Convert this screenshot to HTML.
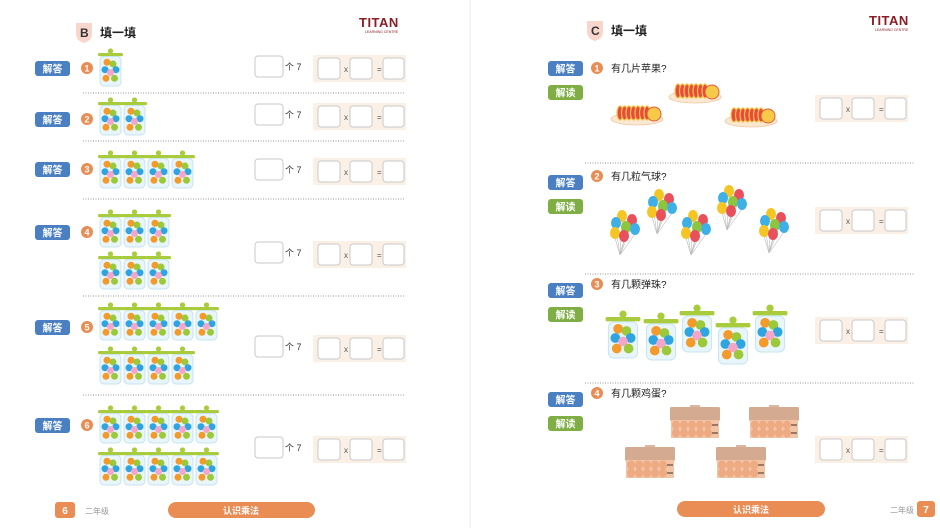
<!DOCTYPE html>
<html><head><meta charset="utf-8">
<style>
html,body{margin:0;padding:0;background:#fff;}
svg{display:block;font-family:"Liberation Sans","Noto Sans CJK SC",sans-serif;}
</style></head>
<body>
<svg id="sheet" width="940" height="528" viewBox="0 0 940 528" xmlns="http://www.w3.org/2000/svg">
<rect width="940" height="528" fill="#fff"/>
<line x1="470" y1="0" x2="470" y2="528" stroke="#f5f5f5" stroke-width="2"/>
<g>
<path d="M76 23 h16 v10 q0 8 -8 10 q-8 -2 -8 -10z" fill="#f8d6cc"/>
<text x="80" y="37" font-size="12" font-weight="bold" fill="#333">B</text>
<text x="100" y="37" font-size="12" font-weight="bold" fill="#222">填一填</text>
</g>
<g>
<text x="359" y="27" font-size="13" font-weight="bold" fill="#8b1e24" letter-spacing="0.5">TITAN</text>
<text x="365" y="33" font-size="3.5" fill="#8b1e24">LEARNING CENTRE</text>
</g>
<g>
<path d="M587 21 h16 v10 q0 8 -8 10 q-8 -2 -8 -10z" fill="#f8d6cc"/>
<text x="591" y="35" font-size="12" font-weight="bold" fill="#333">C</text>
<text x="611" y="35" font-size="12" font-weight="bold" fill="#222">填一填</text>
</g>
<g>
<text x="869" y="25" font-size="13" font-weight="bold" fill="#8b1e24" letter-spacing="0.5">TITAN</text>
<text x="875" y="31" font-size="3.5" fill="#8b1e24">LEARNING CENTRE</text>
</g>
<g id="content"></g>
<g>
<rect x="55" y="502" width="20" height="16" rx="3" fill="#e98d55"/>
<text x="65" y="514" font-size="10" font-weight="bold" fill="#fff" text-anchor="middle">6</text>
<text x="85" y="514" font-size="8" fill="#999">二年级</text>
<rect x="168" y="502" width="147" height="16" rx="8" fill="#e98d55"/>
<text x="241" y="514" font-size="9" font-weight="bold" fill="#fff" text-anchor="middle">认识乘法</text>
</g>
<g>
<rect x="677" y="501" width="148" height="16" rx="8" fill="#e98d55"/>
<text x="751" y="513" font-size="9" font-weight="bold" fill="#fff" text-anchor="middle">认识乘法</text>
<text x="890" y="513" font-size="8" fill="#999">二年级</text>
<rect x="917" y="501" width="18" height="16" rx="3" fill="#e98d55"/>
<text x="926" y="513" font-size="10" font-weight="bold" fill="#fff" text-anchor="middle">7</text>
</g>
</svg>
<script>
const NS='http://www.w3.org/2000/svg';
const root=document.getElementById('content');
function el(tag,attrs,parent){const e=document.createElementNS(NS,tag);for(const k in attrs)e.setAttribute(k,attrs[k]);(parent||root).appendChild(e);return e;}
function txt(x,y,s,attrs,parent){const t=el('text',Object.assign({x:x,y:y},attrs),parent);t.textContent=s;return t;}

function button(x,y,label,color){
  const g=el('g',{});
  
  
  el('rect',{x:x,y:y,width:35,height:15,rx:3,fill:color},g);
  txt(x+17.5,y+11.5,label,{'font-size':10,'font-weight':'bold',fill:'#fff','text-anchor':'middle'},g);
}
function num(x,y,n){
  const g=el('g',{});
  
  
  el('circle',{cx:x,cy:y,r:6,fill:'#e98d55'},g);
  txt(x,y+3.5,String(n),{'font-size':9,'font-weight':'bold',fill:'#fff','text-anchor':'middle'},g);
}
function box(x,y,w,h,parent){
  const r=el('rect',{x:x,y:y,width:w,height:h,rx:3,fill:'#fff',stroke:'#c9c9c9','stroke-width':1},parent);
  
  
}
function eqn(x,y){
  const g=el('g',{});
  
  
  el('rect',{x:x,y:y,width:93,height:27,fill:'#fbf0e6'},g);
  box(x+5,y+3,22,21,g);
  txt(x+31,y+17,'x',{'font-size':8,fill:'#555'},g);
  box(x+37,y+3,22,21,g);
  txt(x+64,y+17,'=',{'font-size':8,fill:'#555'},g);
  box(x+70,y+3,21,21,g);
}
function groupsOf(x,y){
  box(x,y,28,21);
  const t=txt(x+30,y+14,'个 7',{'font-size':9,fill:'#333'});
  
  
}
function dotted(x1,x2,y){
  const l=el('line',{x1:x1,y1:y,x2:x2,y2:y,stroke:'#999','stroke-width':1,'stroke-dasharray':'1 1.5'});
  
  
}
function jar(x,y,w,h){
  const g=el('g',{});
  
  
  const s=w/23;
  el('circle',{cx:x+w/2,cy:y+3*s,r:2.6*s,fill:'#a8cc3c'},g);
  el('rect',{x:x-1*s,y:y+5*s,width:w+2*s,height:3.2*s,rx:1.5,fill:'#a8cc3c'},g);
  el('rect',{x:x+1*s,y:y+8.5*s,width:w-2*s,height:h-8.5*s,rx:4*s,fill:'#e8f5fa',stroke:'#c6e4ee','stroke-width':1},g);
  const pts=[[8,14],[14,15.5],[6,20.5],[17,20.5],[11.5,23],[7,28],[15.5,28]];
  const cols=['#f39a2b','#9cc93a','#2ea4e0','#2ea4e0','#f4a6c8','#f39a2b','#9cc93a'];
  const sy=(h-8.5*s)/27;
  pts.forEach((p,i)=>el('circle',{cx:x+p[0]*s,cy:y+8.5*s+(p[1]-9)*sy*1.05,r:3.5*s,fill:cols[i]},g));
}
function plate(x,y){
  const g=el('g',{});
  
  
  el('ellipse',{cx:x+25,cy:y+14,rx:26,ry:6,fill:'#fbe8d2',stroke:'#ecc9a0','stroke-width':0.8},g);
  for(let i=0;i<7;i++){el('ellipse',{cx:x+8+i*4.5,cy:y+8,rx:3,ry:7,fill:'#e84b3c',stroke:'#f5c54a','stroke-width':1.2},g);}
  el('circle',{cx:x+42,cy:y+9,r:7,fill:'#f7c948',stroke:'#e35a3a','stroke-width':1},g);
}
function balloons(x,y){
  const g=el('g',{});
  
  
  const b=[[9,0,'#f5c623'],[19,4,'#e8505b'],[3,7,'#3fb0e6'],[13,11,'#8cc63f'],[22,13,'#3fb0e6'],[2,17,'#f5c623'],[11,20,'#e8505b']];
  b.forEach(p=>el('line',{x1:x+p[0]+4,y1:y+p[1]+10,x2:x+11,y2:y+44,stroke:'#bbb','stroke-width':0.6},g));
  b.forEach(p=>el('ellipse',{cx:x+p[0]+4,cy:y+p[1]+5,rx:5,ry:6,fill:p[2]},g));
}
function carton(x,y){
  const g=el('g',{});
  
  
  el('rect',{x:x+20,y:y,width:10,height:3,fill:'#d9b8a0'},g);
  el('rect',{x:x,y:y+2,width:50,height:14,rx:1.5,fill:'#d4ab90'},g);
  el('rect',{x:x+1,y:y+15,width:48,height:18,fill:'#f2c4a6'},g);
  for(let r=0;r<2;r++)for(let i=0;i<5;i++)el('ellipse',{cx:x+6+i*8,cy:y+20+r*8,rx:4,ry:4.5,fill:'#eeaa82'},g);
  el('rect',{x:x+42,y:y+19,width:6,height:2,fill:'#9a7a66'},g);
  el('rect',{x:x+42,y:y+27,width:6,height:2,fill:'#9a7a66'},g);
}

const leftJarCounts=[1,2,4,6,9,10];
const leftBtnY=[61,112,162,225,320,418];
const leftJarRows=[[48],[97],[150],[209,251],[302,346],[405,447]];
const leftBoxY=[56,104,159,242,336,437];
const leftSeps=[93,141,199,296,395];
leftJarCounts.forEach((n,i)=>{
  button(35,leftBtnY[i],'解答','#4a7fc1');
  num(87,leftBtnY[i]+7,i+1);
  const rows=leftJarRows[i];
  let remaining=n;
  rows.forEach((ry,ri)=>{
    const per=rows.length===1?n:Math.ceil(n/rows.length);
    const cnt=ri===rows.length-1?remaining:Math.min(per,remaining);
    for(let j=0;j<cnt;j++)jar(99+j*24,ry,23,38);
    remaining-=cnt;
  });
  groupsOf(255,leftBoxY[i]);
  eqn(313,leftBoxY[i]-1);
});
leftSeps.forEach(y=>dotted(83,405,y));

const questions=['有几片苹果?','有几粒气球?','有几颗弹珠?','有几颗鸡蛋?'];
const qY=[68,176,284,393];
const rBoxY=[95,207,317,436];
const rSeps=[163,274,383];
questions.forEach((q,i)=>{
  button(548,qY[i]-7+(i?6:0),'解答','#4a7fc1');
  button(548,qY[i]+17+(i?6:0),'解读','#7fae44');
  num(597,qY[i],i+1);
  const t=txt(611,qY[i]+4,q,{'font-size':10,fill:'#222'});
  
  
  eqn(815,rBoxY[i]);
});
rSeps.forEach(y=>dotted(585,915,y));
[[612,105],[670,83],[726,107]].forEach(p=>plate(p[0],p[1]));
[[609,211],[646,190],[680,211],[716,186],[758,209]].forEach(p=>balloons(p[0],p[1]));
[[607,310,32,48],[645,312,32,48],[681,304,32,48],[717,316,32,48],[754,304,32,48]].forEach(p=>jar(p[0],p[1],p[2],p[3]));
[[670,405],[749,405],[625,445],[716,445]].forEach(p=>carton(p[0],p[1]));
</script>
</body></html>
